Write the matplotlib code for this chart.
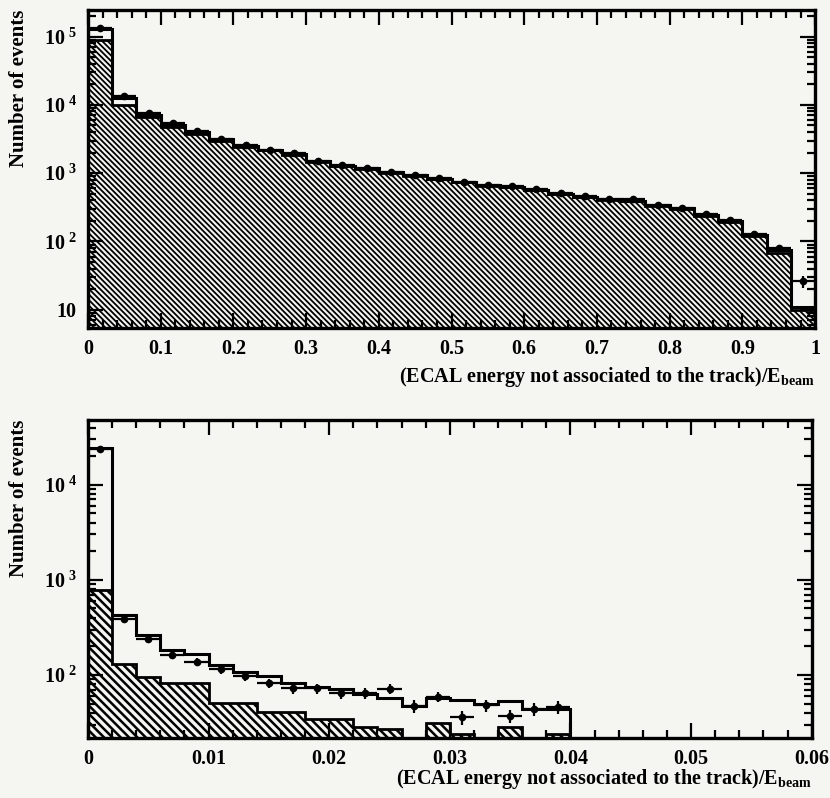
import numpy as np
import matplotlib as mat
mat.use('Agg')
import matplotlib.pyplot as plt
from matplotlib.ticker import MultipleLocator, LogLocator, FuncFormatter, NullFormatter

plt.rcParams['font.family'] = ['Liberation Serif', 'DejaVu Serif']
plt.rcParams['font.weight'] = 'bold'
plt.rcParams['mathtext.fontset'] = 'custom'
plt.rcParams['mathtext.rm'] = 'Liberation Serif:bold'
plt.rcParams['mathtext.bf'] = 'Liberation Serif:bold'
plt.rcParams['mathtext.it'] = 'Liberation Serif:bold'

# top panel: 30 bins between 0 and 1
top_bins = 30
top_mc = [1.27e5, 1.25e4, 7.1e3, 5.1e3, 4.0e3, 3.15e3, 2.5e3, 2.2e3, 1.9e3, 1.49e3,
          1.29e3, 1.17e3, 1.03e3, 930, 830, 745, 665, 630, 575, 500,
          450, 415, 390, 340, 305, 240, 200, 124, 75, 11]
top_hatched = [9.0e4, 1.0e4, 6.6e3, 4.8e3, 3.8e3, 3.0e3, 2.45e3, 2.15e3, 1.85e3, 1.46e3,
               1.27e3, 1.15e3, 1.0e3, 915, 820, 735, 655, 620, 565, 495,
               445, 410, 385, 335, 300, 235, 195, 120, 67, 10]
top_data = [1.35e5, 1.33e4, 7.5e3, 5.4e3, 4.1e3, 3.2e3, 2.55e3, 2.2e3, 1.95e3, 1.5e3,
            1.3e3, 1.2e3, 1.05e3, 950, 840, 750, 680, 640, 580, 510,
            455, 420, 425, 345, 310, 250, 205, 130, 80, 26]
top_err = [370, 115, 87, 73, 64, 57, 50, 47, 44, 39,
           36, 35, 32, 31, 29, 27, 26, 25, 24, 23,
           21, 20, 21, 19, 18, 16, 14, 11, 9, 5]

# bottom panel: 20 bins between 0 and 0.04
bot_bins = 20
bot_mc = [2.45e4, 425, 264, 185, 165, 126, 106, 97, 83, 75,
          71, 63, 57, 47, 57, 54, 49, 53, 44, 44]
bot_hatched = [775, 131, 95, 83, 83, 51, 51, 41, 41, 34,
               34, 28, 27, 0, 31, 24, 0, 28, 0, 24]
bot_data = [2.4e4, 390, 240, 161, 138, 114, 97, 82, 72, 72,
            64, 64, 71, 47, 59, 36, 48, 37, 44, 46]
bot_err = [150, 20, 15, 13, 12, 11, 10, 9, 8.5, 8.5,
           8, 8, 8.5, 7, 7.7, 6, 7, 6, 6.6, 6.8]

paper = '#f5f5f1'
xlabel = r'(ECAL energy not associated to the track)/E$_{\mathbf{beam}}$'


def ylab(v, pos):
    e = int(round(np.log10(v)))
    if e == 1:
        return '10'
    return r'$10^{\ %d}$' % e


def draw_panel(ax, xmax, nbins, mc, hatched, data, err, hatch, hlw, xmaj, xmin, ylim, xlab_y):
    edges = np.linspace(0, xmax, nbins + 1)
    centers = 0.5 * (edges[1:] + edges[:-1])
    half = 0.5 * (edges[1] - edges[0])
    base = ylim[0] * 0.1
    hv = np.where(np.array(hatched) > 0, hatched, base)

    plt.rcParams['hatch.linewidth'] = hlw
    ax.stairs(hv, edges, baseline=base, fill=True, facecolor=paper,
              edgecolor='black', hatch=hatch, lw=2)
    ax.stairs(mc, edges, baseline=base, color='black', lw=2.2)
    ax.errorbar(centers, data, xerr=half, yerr=err, fmt='o', ms=4.5,
                color='black', elinewidth=1.6, capsize=0)

    ax.set_yscale('log')
    ax.set_ylim(*ylim)
    ax.xaxis.set_major_locator(MultipleLocator(xmaj))
    ax.xaxis.set_minor_locator(MultipleLocator(xmin))
    ax.xaxis.set_major_formatter(FuncFormatter(lambda v, p: '%g' % round(v, 4)))
    ax.yaxis.set_major_locator(LogLocator(base=10, numticks=10))
    ax.yaxis.set_minor_locator(LogLocator(base=10, subs=np.arange(2, 10), numticks=20))
    ax.yaxis.set_major_formatter(FuncFormatter(ylab))
    ax.yaxis.set_minor_formatter(NullFormatter())
    ax.tick_params(which='both', direction='in', top=True, right=True,
                   labelsize=14.5, width=1.6, pad=8)
    ax.tick_params(which='major', length=11)
    ax.tick_params(which='minor', length=5.5)
    for s in ax.spines.values():
        s.set_linewidth(2.4)
    ax.set_facecolor(paper)
    ax.text(1.0, xlab_y, xlabel, transform=ax.transAxes, ha='right', va='center',
            fontsize=14.5, fontweight='bold')
    ax.text(-0.095, 1.0, 'Number of events', transform=ax.transAxes, rotation=90,
            ha='center', va='top', fontsize=15, fontweight='bold')


fig = plt.figure(figsize=(8.3, 7.98), dpi=100, facecolor=paper)
ax1 = fig.add_axes([0.106, 0.589, 0.876, 0.3985])
ax2 = fig.add_axes([0.106, 0.0752, 0.872, 0.3985])

draw_panel(ax1, 1.0, top_bins, top_mc, top_hatched, top_data, top_err,
           '\\' * 6, 1.3, 0.1, 0.02, (5.4, 2.45e5), -0.155)
ax1.set_xlim(0, 1)
draw_panel(ax2, 0.04, bot_bins, bot_mc, bot_hatched, bot_data, bot_err,
           '\\' * 4, 1.8, 0.01, 0.002, (21.7, 4.8e4), -0.13)
ax2.set_xlim(0, 0.06)

fig.savefig('out.png', dpi=100, facecolor=paper)
